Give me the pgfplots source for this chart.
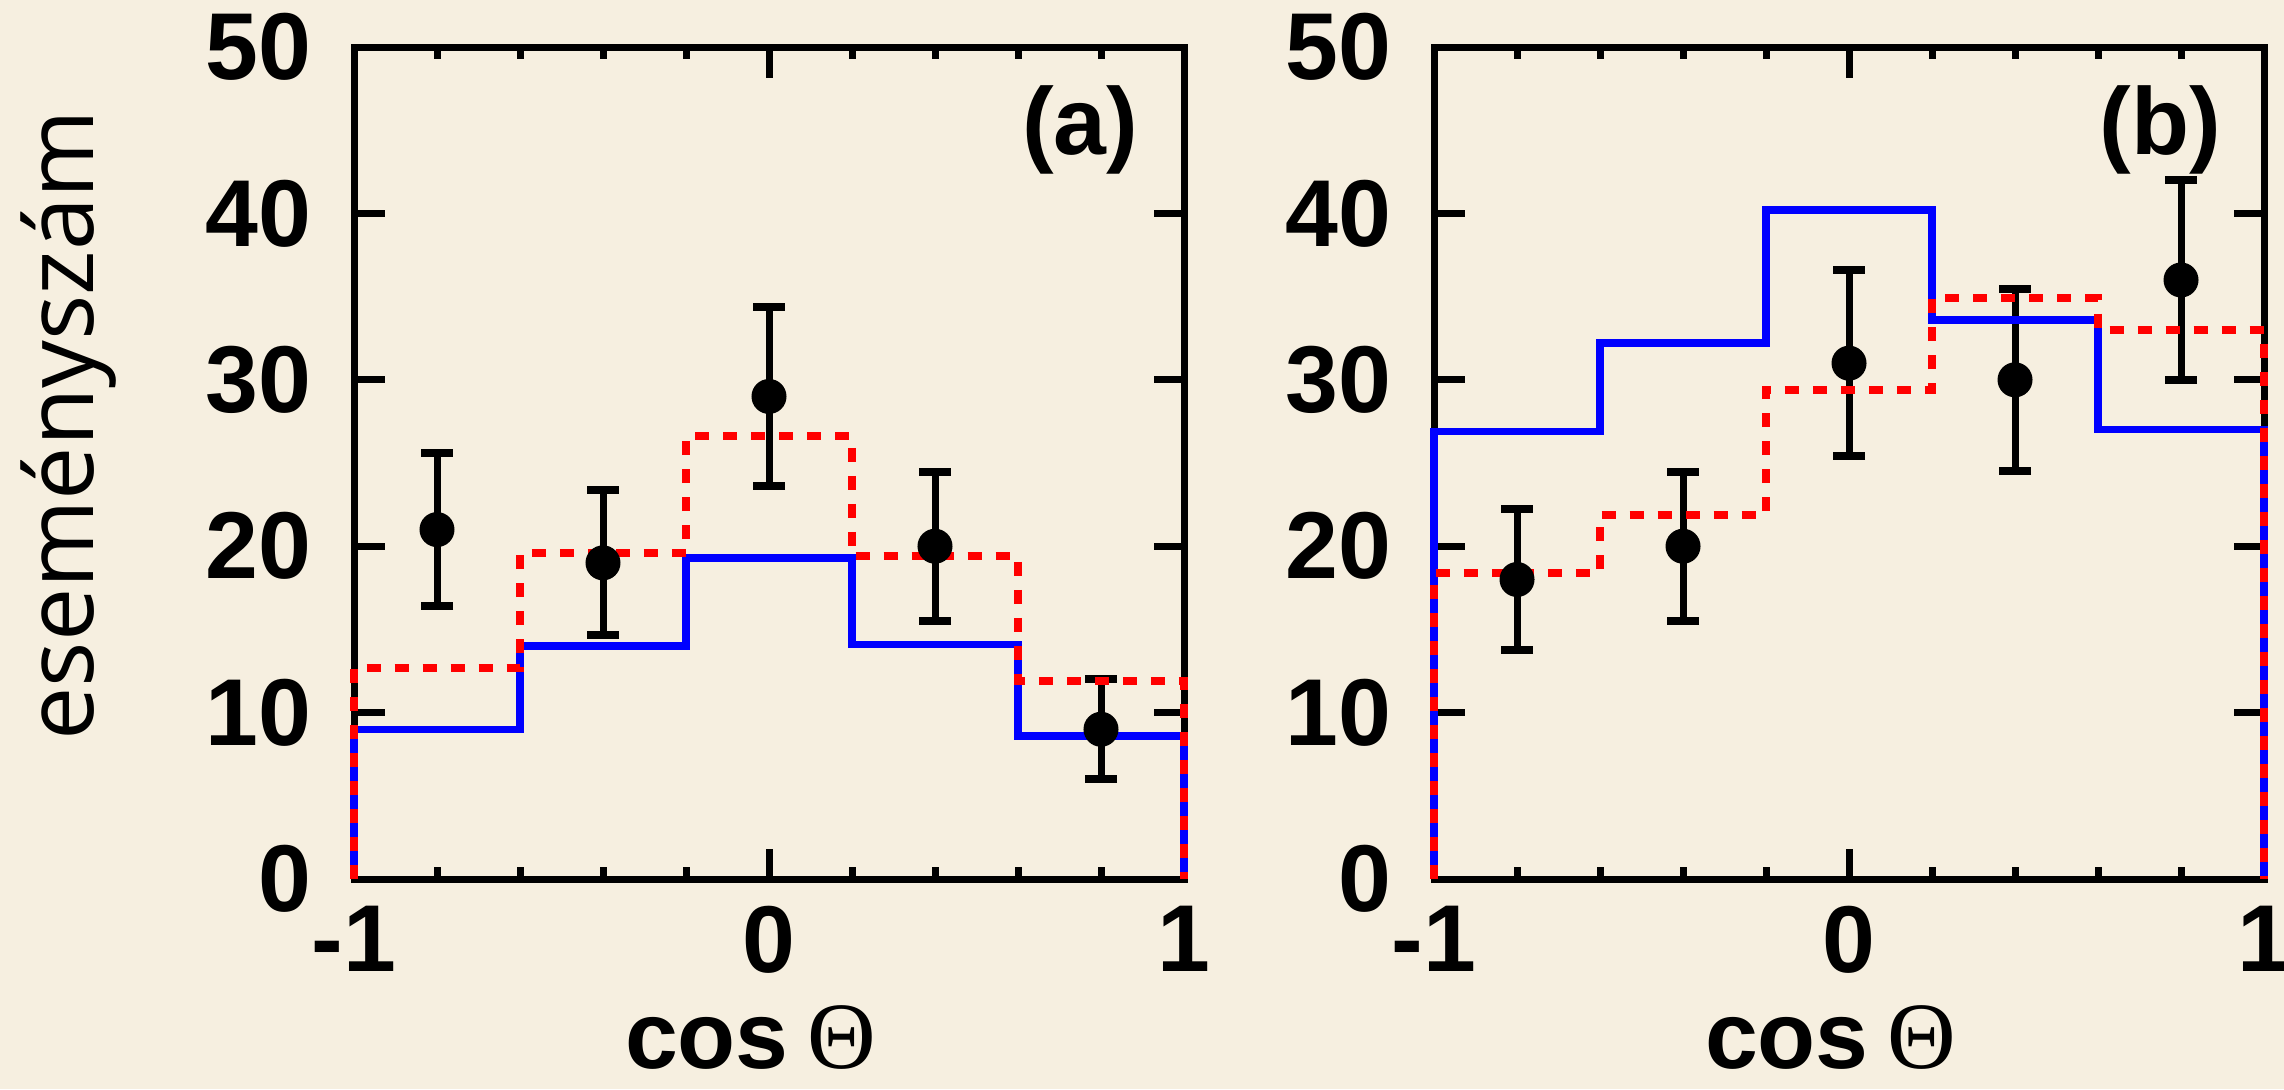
\documentclass[border=0pt]{standalone}
\usepackage{fontspec}
\setmainfont{Liberation Sans}
\newfontfamily\labfont{Open Sans}
\newfontfamily\thetafont{Liberation Serif}
\usepackage{pgfplots}
\pgfplotsset{compat=1.18}
\definecolor{bgc}{RGB}{246,239,224}
\pgfplotsset{
  myaxis/.style={
    scale only axis, width=166pt, height=166.4pt,
    xmin=-1, xmax=1, ymin=0, ymax=50,
    xtick={-1,0,1}, xticklabels={-1,0,1},
    minor x tick num=4,
    ytick={0,10,20,30,40,50}, yticklabels={0,10,20,30,40,50},
    tick align=inside, tick pos=both, ticklabel pos=left,
    major tick length=6.1pt, minor tick length=2.4pt,
    every tick/.append style={black, line width=1.4pt},
    axis line style={black, line width=1.4pt},
    ticklabel style={font=\bfseries\fontsize{19}{19}\selectfont, inner sep=0pt},
    yticklabel style={anchor=east, xshift=-8.4pt},
    xticklabel style={anchor=north, yshift=-5.2pt},
    clip=false,
    xlabel={cos\hspace{3.8pt}{\thetafont\mdseries Θ}},
    every axis x label/.style={at={(axis description cs:0.478,0)}, anchor=base, yshift=-37.8pt, font=\bfseries\fontsize{19}{19}\selectfont, inner sep=0pt},
  },
  pts/.style={black, only marks, mark=*, mark size=3.3pt,
    mark options={fill=black, draw=black, solid},
    error bars/.cd, y dir=both, y explicit,
    error bar style={line width=1.4pt, black, solid},
    error mark options={rotate=90, line width=1.6pt, mark size=3.2pt, black}},
  blu/.style={blue, line width=1.5pt, const plot, no marks},
  rd/.style={red, line width=1.6pt, dash pattern=on 2.8pt off 2.8pt, const plot, no marks},
}
\begin{document}
\begin{tikzpicture}
\fill[bgc] (0,0) rectangle (456.8pt,217.8pt);
\useasboundingbox (0,0) rectangle (456.8pt,217.8pt);
\begin{axis}[myaxis, at={(70.8pt,42pt)}, anchor=south west,
  ylabel={eseményszám},
  every axis y label/.style={at={(axis description cs:-0.3133,0.5457)}, rotate=90, anchor=base, font=\labfont\fontsize{19}{19}\selectfont, inner sep=0pt}]
\addplot[pts] table[x=x, y=y, y error=e] {
x y e
-0.8 21 4.58
-0.4 19 4.36
0 29 5.39
0.4 20 4.47
0.8 9 3.00
};
\addplot[blu] coordinates {(-1,0) (-1,9.0) (-0.6,14.0) (-0.2,19.3) (0.2,14.1) (0.6,8.6) (1,8.6) (1,0)};
\addplot[rd] coordinates {(-1,0) (-1,12.7) (-0.6,19.6) (-0.2,26.6) (0.2,19.4) (0.6,11.9) (1,11.9) (1,0)};
\node[font=\bfseries\fontsize{19}{19}\selectfont, inner sep=0pt] at (axis cs:0.75,45) {(a)};
\end{axis}
\begin{axis}[myaxis, at={(286.8pt,42pt)}, anchor=south west]
\addplot[pts] table[x=x, y=y, y error=e] {
x y e
-0.8 18 4.24
-0.4 20 4.47
0 31 5.57
0.4 30 5.48
0.8 36 6.00
};
\addplot[blu] coordinates {(-1,0) (-1,26.9) (-0.6,32.2) (-0.2,40.2) (0.2,33.6) (0.6,27.0) (1,27.0) (1,0)};
\addplot[rd] coordinates {(-1,0) (-1,18.4) (-0.6,21.9) (-0.2,29.4) (0.2,34.9) (0.6,33.0) (1,33.0) (1,0)};
\node[font=\bfseries\fontsize{19}{19}\selectfont, inner sep=0pt] at (axis cs:0.75,45) {(b)};
\end{axis}
\end{tikzpicture}
\end{document}
